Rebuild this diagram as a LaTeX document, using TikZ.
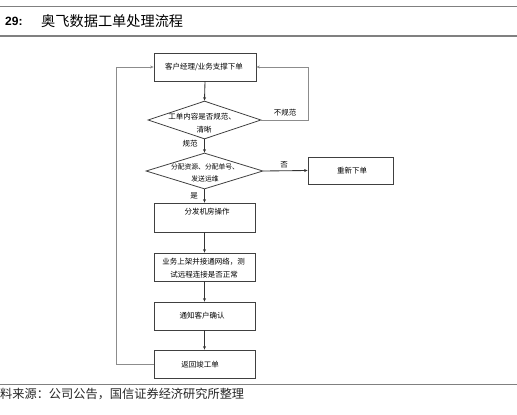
\documentclass[tikz,border=0pt]{standalone}
\usepackage{fontspec}
\setmainfont{Liberation Sans}
\newfontfamily\cjk{Noto Sans CJK SC}
\usetikzlibrary{shapes.geometric,arrows.meta}
\begin{document}
\begin{tikzpicture}[x=1pt,y=-1pt,
  rule/.style={draw=black!50,line width=1.6pt},
  boxstyle/.style={draw=black!75,line width=0.8pt,fill=white},
  dia/.style={draw=black!75,line width=0.8pt,shape=diamond,inner sep=0pt},
  txt/.style={font=\cjk\fontsize{7.5}{9}\selectfont,inner sep=0pt,text=black},
  stxt/.style={font=\cjk\fontsize{6.8}{8}\selectfont,inner sep=0pt,text=black},
  arr/.style={draw=black!80,line width=0.85pt,-{Stealth[length=3.5pt,width=3pt]}},
  loop/.style={draw=black!45,line width=0.9pt,-{Stealth[length=3.5pt,width=3pt]}}]
\useasboundingbox (0,0) rectangle (517,415);
% rules
\draw[rule] (0,6.5) -- (517,6.5);
\draw[rule] (0,36) -- (517,36);
\draw[rule] (0,384.5) -- (517,384.5);
% title
\node[anchor=west,inner sep=0pt,font=\bfseries\fontsize{12}{14}\selectfont] (num) at (5,21.5) {29:};
\node[anchor=west,inner sep=0pt,font=\cjk\fontsize{14.2}{16}\selectfont] (title) at (41,21.5) {奥飞数据工单处理流程};
% footer
\node[anchor=west,inner sep=0pt,font=\cjk\fontsize{12.2}{14}\selectfont,text=black!85] (src) at (0,394) {料来源：公司公告，国信证券经济研究所整理};
% boxes
\node[boxstyle,minimum width=102pt,minimum height=28pt] (b1) at (205,67) {};
\node[txt] (t1) at (204,67) {客户经理/业务支撑下单};
\node[dia,minimum width=113pt,minimum height=38pt] (d1) at (204.5,120) {};
\node[txt] (td1a) at (202,117) {工单内容是否规范、};
\node[txt] (td1b) at (204,130) {清晰};
\node[dia,minimum width=117pt,minimum height=36pt] (d2) at (204.5,171) {};
\node[stxt] (td2a) at (205,167) {分配资源、分配单号、};
\node[stxt] (td2b) at (205,179) {发送运维};
\node[boxstyle,minimum width=85pt,minimum height=27pt] (b2) at (350.5,170.5) {};
\node[txt] (t2) at (352,171) {重新下单};
\node[boxstyle,minimum width=101pt,minimum height=29pt] (b3) at (204.5,217.5) {};
\node[txt] (t3) at (207,212) {分发机房操作};
\node[boxstyle,minimum width=101pt,minimum height=28pt] (b4) at (204.5,267) {};
\node[txt] (t4a) at (203.5,261.5) {业务上架并接通网络，测};
\node[txt] (t4b) at (204,275) {试远程连接是否正常};
\node[boxstyle,minimum width=101pt,minimum height=28pt] (b5) at (204.5,316) {};
\node[txt] (t5) at (202,316) {通知客户确认};
\node[boxstyle,minimum width=101pt,minimum height=28pt] (b6) at (204.5,364) {};
\node[txt] (t6) at (200,365) {返回竣工单};
% labels
\node[txt] (lbl1) at (285,113) {不规范};
\node[txt] (lbl2) at (190,144) {规范};
\node[txt] (lbl3) at (284,164.5) {否};
\node[txt] (lbl4) at (194,196) {是};
% connectors
\coordinate (rr1) at (308,120);
\coordinate (rr2) at (308,67);
\coordinate (ll1) at (116,364);
\coordinate (ll2) at (116,67);
\draw[arr] (b1.south) -- (d1.north);
\draw[arr] (d1.south) -- (d2.north);
\draw[arr] (d2.south) -- (b3.north);
\draw[arr] (b3.south) -- (b4.north);
\draw[arr] (b4.south) -- (b5.north);
\draw[arr] (b5.south) -- (b6.north);
\draw[arr] (d2.east) -- (b2.west);
\draw[loop] (d1.east) -- (rr1) -- (rr2) -- (b1.east);
\draw[loop] (b6.west) -- (ll1) -- (ll2) -- (b1.west);
\end{tikzpicture}
\end{document}
